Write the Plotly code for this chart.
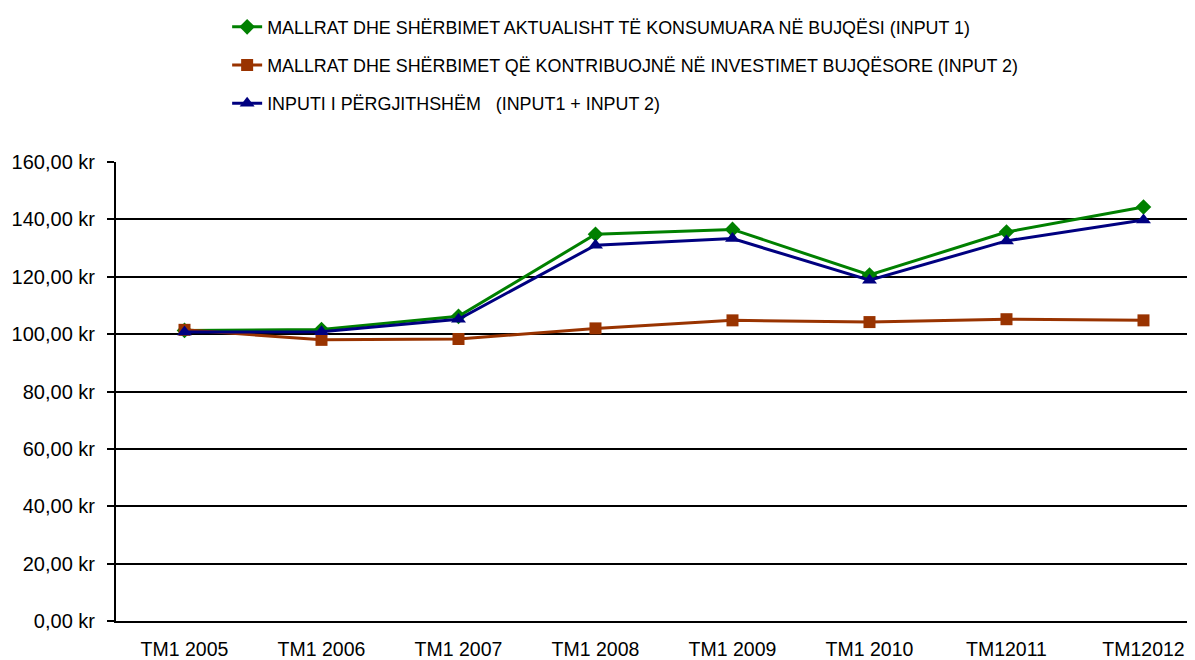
import plotly.graph_objects as go

categories = ["TM1 2005", "TM1 2006", "TM1 2007", "TM1 2008", "TM1 2009", "TM1 2010", "TM12011", "TM12012"]
input1 = [101.3, 101.6, 106.2, 134.8, 136.5, 120.6, 135.6, 144.3]
input2 = [101.5, 98.0, 98.3, 102.0, 104.8, 104.2, 105.2, 104.8]
total = [100.7, 100.8, 105.2, 131.0, 133.3, 118.8, 132.5, 139.8]

names = [
    "MALLRAT DHE SHËRBIMET AKTUALISHT TË KONSUMUARA NË BUJQËSI (INPUT 1)",
    "MALLRAT DHE SHËRBIMET QË KONTRIBUOJNË NË INVESTIMET BUJQËSORE (INPUT 2)",
    "INPUTI I PËRGJITHSHËM   (INPUT1 + INPUT 2)",
]
ytick_vals = [0, 20, 40, 60, 80, 100, 120, 140, 160]
ytick_text = ["0,00 kr", "20,00 kr", "40,00 kr", "60,00 kr", "80,00 kr", "100,00 kr", "120,00 kr", "140,00 kr", "160,00 kr"]

x_idx = list(range(len(categories)))
font = "Liberation Sans, Arial, sans-serif"

fig = go.Figure()
fig.add_trace(go.Scatter(x=x_idx, y=input1, name=names[0], mode="lines+markers", legendgroup="a",
                         line=dict(color="#008000", width=3),
                         marker=dict(symbol="diamond", size=12, color="#008000")))
fig.add_trace(go.Scatter(x=x_idx, y=input2, name=names[1], mode="lines+markers", legendgroup="b",
                         line=dict(color="#993300", width=3),
                         marker=dict(symbol="square", size=12, color="#993300")))
fig.add_trace(go.Scatter(x=x_idx, y=total, name=names[2], mode="lines+markers", legendgroup="c",
                         line=dict(color="#000080", width=3),
                         marker=dict(symbol="triangle-up", size=13, color="#000080")))

# page body has an 8px margin, so the figure is 8px smaller and margins shifted
fig.update_layout(
    width=1187, height=652,
    margin=dict(l=108, r=0, t=154, b=32),
    paper_bgcolor="white", plot_bgcolor="white",
    showlegend=True,
    legend=dict(x=0.103, y=1.334, xanchor="left", yanchor="top", orientation="v",
                font=dict(family=font, size=17.9, color="black"),
                tracegroupgap=12, bgcolor="rgba(0,0,0,0)"),
    hovermode=False,
)
fig.update_xaxes(
    tickmode="array", tickvals=x_idx, ticktext=categories,
    range=[-0.5, 7.376], showgrid=False, zeroline=False,
    showline=True, linecolor="black", linewidth=1.5,
    ticks="", ticklabelstandoff=10,
    tickfont=dict(family=font, size=19.5, color="black"),
)
fig.update_yaxes(
    tickmode="array", tickvals=ytick_vals, ticktext=ytick_text,
    range=[0, 160], showgrid=True, gridcolor="black", gridwidth=1.5,
    zeroline=False, showline=True, linecolor="black", linewidth=2,
    ticks="outside", ticklen=7, tickcolor="black", tickwidth=1.5,
    ticklabelstandoff=8,
    tickfont=dict(family=font, size=20, color="black"),
)

fig.write_html("out.html")
